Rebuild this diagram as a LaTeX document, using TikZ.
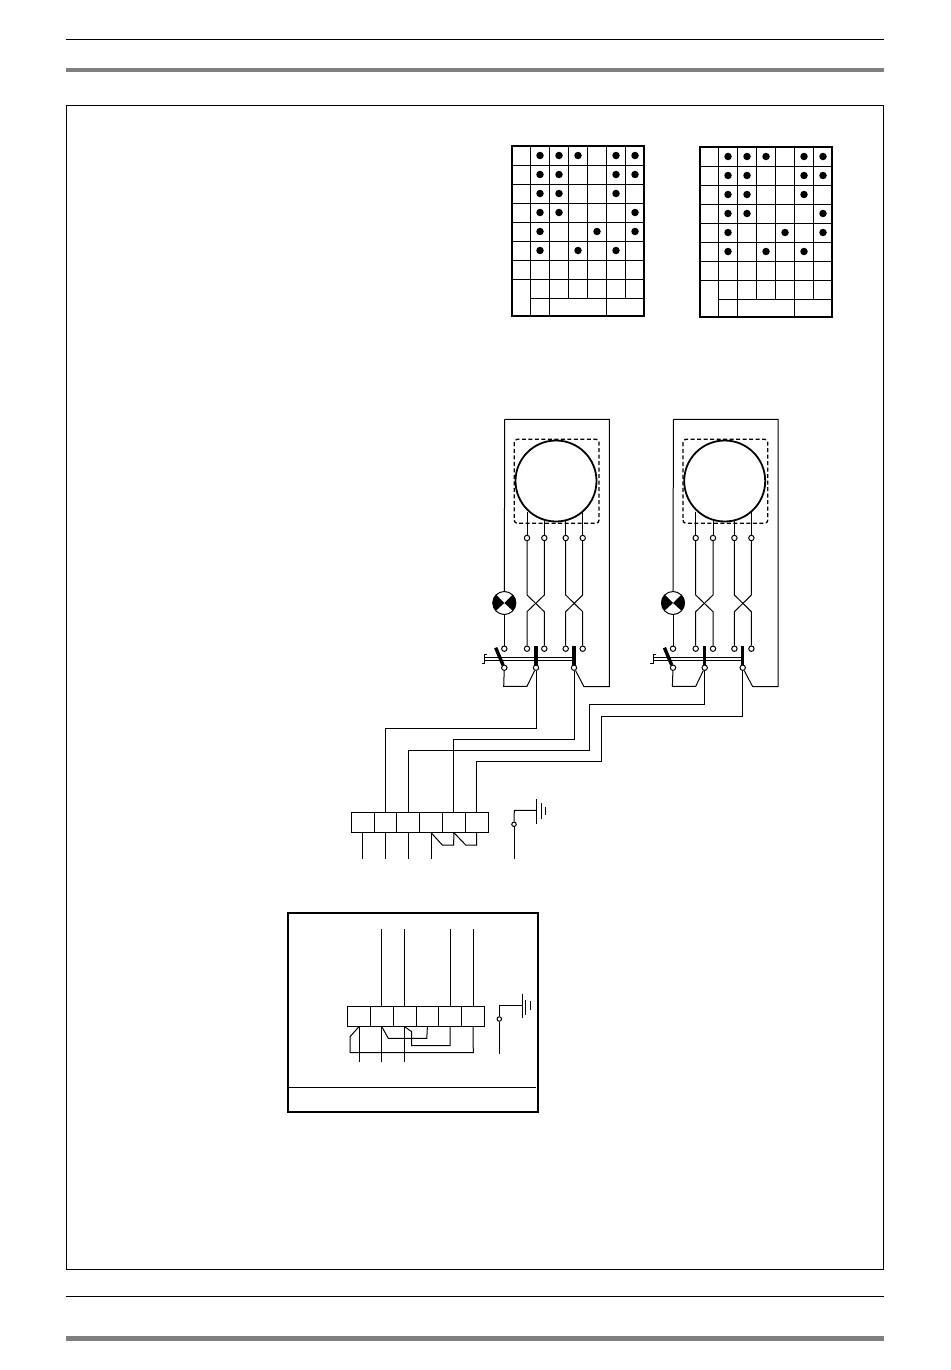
\documentclass[tikz,border=0pt]{standalone}
\usepackage{tikz}
\usetikzlibrary{positioning}
\definecolor{bargray}{HTML}{808080}
\begin{document}
\begin{tikzpicture}[x=1pt, y=-1pt, line width=1pt,
    vertices/.style={draw, fill=white, circle, inner sep=0pt, minimum size=5.4pt},
    spot/.style={fill=black, circle, inner sep=0pt, minimum size=7.5pt},
    cell/.style={draw, rectangle, inner sep=0pt, minimum width=22.8pt, minimum height=19.6pt, line width=1pt},
    blade/.style={line width=3.4pt},
    grid/.style={line width=1pt},
    frame/.style={line width=1.8pt}]
    \useasboundingbox (0,0) rectangle (950,1370);
    % page rules
    \draw (66,39.5) -- (884,39.5);
    \fill[bargray] (66,68) rectangle (884,72.5);
    \draw (66.5,105.5) rectangle (883.5,1269.5);
    \draw (66,1296.5) -- (884,1296.5);
    \fill[bargray] (66,1336) rectangle (884,1341);

    % contact tables
    \foreach \dx/\dy in {0/0,188/1} {
    \begin{scope}[shift={(\dx,\dy)}]
        \foreach \r in {165,184,203,222,241,260,279} \draw[grid] (512,\r) -- (644,\r);
        \draw[grid] (530.5,298) -- (644,298);
        \foreach \c in {530.5,549.5,606.5} \draw[grid] (\c,146) -- (\c,316);
        \foreach \c in {568.5,587.5} \draw[grid] (\c,146) -- (\c,298);
        \draw[grid] (625.5,146) -- (625.5,298);
        \draw[frame] (512,146) rectangle (644,316);
        \foreach \c/\r in {1/1,2/1,3/1,5/1,6/1,1/2,2/2,5/2,6/2,1/3,2/3,5/3,1/4,2/4,6/4,1/5,4/5,6/5,1/6,3/6,5/6}
            \node[spot] (s\dx-\c-\r) at ({521+19*\c},{136.5+19*\r}) {};
    \end{scope}
    }

    % motor units
    \foreach \side/\dx in {A/0,B/168.7} {
    \begin{scope}[shift={(\dx,0)}, name prefix=\side-]
        \node[draw, circle, line width=1.8pt, minimum size=81pt, inner sep=0pt] (motor) at (556,481) {};
        \draw[dash pattern=on 4pt off 2.5pt, line width=1.3pt, rounded corners=3pt] (514.3,439.3) rectangle (599,523.3);
        \node[vertices] (ma) at (527,538) {};
        \node[vertices] (mb) at (544.3,538) {};
        \node[vertices] (mc) at (565.7,538) {};
        \node[vertices] (md) at (582.7,538) {};
        \node[vertices] (ca) at (527,648.7) {};
        \node[vertices] (cb) at (544.3,648.7) {};
        \node[vertices] (cc) at (565.7,648.7) {};
        \node[vertices] (cd) at (582.7,648.7) {};
        \node[vertices] (ce) at (504.3,648.7) {};
        \node[vertices] (sa) at (504.3,667.7) {};
        \node[vertices] (sb) at (536,667.7) {};
        \node[vertices] (sc) at (574,667.7) {};
        \coordinate (wa) at (527,511.7);
        \coordinate (wb) at (544.3,520.7);
        \coordinate (wc) at (565.7,521);
        \coordinate (wd) at (582.7,511.7);
        \foreach \to/\from in {wa/ma,wb/mb,wc/mc,wd/md} \draw (\to)--(\from);
        % crossed pairs
        \draw (ma) -- (527,595) -- (544.3,611.7) -- (cb);
        \draw (mb) -- (544.3,595) -- (527,611.7) -- (ca);
        \draw (mc) -- (565.7,595) -- (582.7,611.7) -- (cd);
        \draw (md) -- (582.7,595) -- (565.7,611.7) -- (cc);
        % lamp
        \node[circle, fill=white, draw, line width=1pt, minimum size=23pt, inner sep=0pt] (lamp) at (504.3,603) {};
        \fill (lamp.center) -- (lamp.north west) arc (135:225:11.5pt) -- cycle;
        \fill (lamp.center) -- (lamp.north east) arc (45:-45:11.5pt) -- cycle;
        \draw (lamp.south) -- (ce);
        \draw (504.7,419.3) -- (lamp.north);
        \draw (504.7,419.3) -| (609.3,686.7) -- (584,686.7) -- (sc);
        \draw (sa) -- (503.7,686.3) -- (527,686.3) -- (sb);
        % switch blades
        \draw[blade] (495.7,647.7) -- (503,665);
        \draw[blade] (536,646.3) -- (sb.north);
        \draw[blade] (574,646.3) -- (sc.north);
        \draw[line width=0.8pt] (484.3,657.3) -- (574,657.3);
        \draw[line width=0.8pt] (484.3,660) -- (574,660);
        \draw[line width=0.8pt] (486.9,654.3) -- (484.3,654.3) -- (484.3,663.3) -- (481.7,663.3);
    \end{scope}
    }

    % upper terminal block
    \node[cell] (a1) at (362.6,822.3) {};
    \foreach \i [remember=\i as \j (initially 1)] in {2,...,6}
        \node[cell, right=-1pt of a\j] (a\i) {};
    \draw (A-sb) -- (536,728.7) -| (a2.north);
    \draw (A-sc) -- (574,739) -| (a5.north);
    \draw (B-sb) -- (704.7,704.3) -- (589,704.3) -- (589,750) -| (a3.north);
    \draw (B-sc) -- (742.7,716.7) -- (601.7,716.7) -- (601.7,761.7) -| (a6.north);
    \coordinate (a1o) at (a1.south |- 0,858.7);
    \coordinate (a2o) at (a2.south |- 0,858.7);
    \coordinate (a3o) at (a3.south |- 0,858.7);
    \coordinate (a4o) at (a4.south |- 0,858.7);
    \foreach \to/\from in {a1/a1o,a2/a2o,a3/a3o,a4/a4o} \draw (\to.south)--(\from);
    \draw (a4.south) -- (442.3,845) -- (453.7,845) -- (a5.south);
    \draw (a5.south) -- (465.7,845) -- (476.7,845) -- (a6.south);
    % earth
    \node[vertices, minimum size=4.5pt] (ea) at (514,824.3) {};
    \coordinate (eo) at (514,858.7);
    \coordinate (eg) at (536.7,810.3);
    \draw (ea) -- (eo);
    \draw (ea) -- (514.3,810.3) -- (eg);
    \draw[line width=1.2pt] (536.7,799) -- (536.7,823.7);
    \draw (541,803) -- (541,818.5);
    \draw (545,806.5) -- (545,815);

    % second connection box
    \draw[frame] (288.3,913) rectangle (538,1111.7);
    \draw (288.3,1087.3) -- (536,1087.3);
    \node[cell] (b1) at (359,1016.4) {};
    \foreach \i [remember=\i as \j (initially 1)] in {2,...,6}
        \node[cell, right=-1pt of b\j] (b\i) {};
    \coordinate (b2i) at (b2.north |- 0,929.3);
    \coordinate (b3i) at (b3.north |- 0,929.3);
    \coordinate (b5i) at (b5.north |- 0,929.3);
    \coordinate (b6i) at (b6.north |- 0,929.3);
    \foreach \to/\from in {b2/b2i,b3/b3i,b5/b5i,b6/b6i} \draw (\to.north)--(\from);
    \coordinate (b1o) at (b1.south |- 0,1061.7);
    \coordinate (b2o) at (b2.south |- 0,1061.7);
    \coordinate (b3o) at (b3.south |- 0,1061.7);
    \foreach \to/\from in {b1/b1o,b2/b2o,b3/b3o} \draw (\to.south)--(\from);
    \draw (b1.south) -- (350,1036.7) -- (350,1052.7) -- (473.3,1052.7) -- (b6.south);
    \draw (b2.south) -- (388.3,1038.3) -- (426.8,1038.3) -- (b4.south);
    \draw (b3.south) -- (411.7,1031.7) -- (411.7,1045.7) -- (450,1045.7) -- (b5.south);
    % earth
    \node[vertices, minimum size=4.5pt] (fa) at (499.3,1019) {};
    \coordinate (fo) at (499.3,1053.5);
    \coordinate (fg) at (522.3,1005.3);
    \draw (fa) -- (fo);
    \draw (fa) -- (499.3,1005.3) -- (fg);
    \draw[line width=1.2pt] (522.3,994) -- (522.3,1018.3);
    \draw (525.7,1000) -- (525.7,1015);
    \draw (530.3,1001) -- (530.3,1010);
\end{tikzpicture}
\end{document}
